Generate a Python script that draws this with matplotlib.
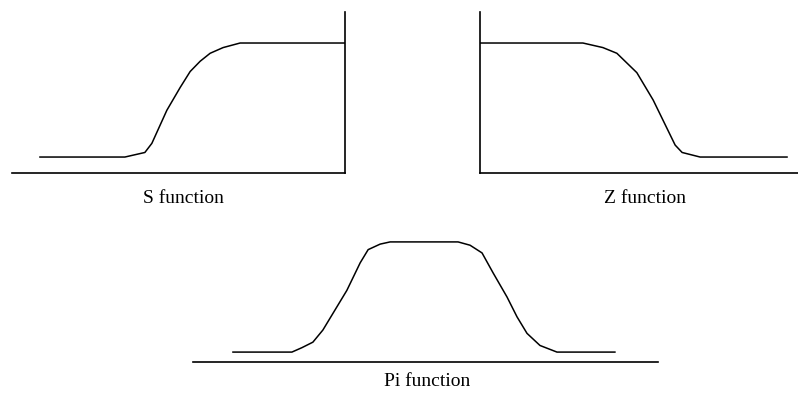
import matplotlib.pyplot as plt

# membership curves (x in arbitrary units, y = membership 0..1)
s_x = [0.84, 3.39, 3.69, 3.99, 4.2, 4.65, 5.05, 5.35, 5.65, 5.95, 6.34, 6.85, 10.0]
s_y = [0.0, 0.0, 0.02, 0.04, 0.12, 0.41, 0.61, 0.75, 0.84, 0.91, 0.96, 1.0, 1.0]

z_x = [0.0, 3.09, 3.69, 4.11, 4.71, 5.2, 5.86, 6.07, 6.61, 9.22]
z_y = [1.0, 1.0, 0.96, 0.91, 0.74, 0.5, 0.105, 0.04, 0.0, 0.0]

pi_x = [1.2, 2.97, 3.27, 3.6, 3.9, 4.2, 4.62, 5.02, 5.26, 5.62, 5.92,
        7.96, 8.32, 8.68, 9.01, 9.43, 9.73, 10.03, 10.42, 10.93, 12.67]
pi_y = [0.0, 0.0, 0.04, 0.09, 0.2, 0.35, 0.56, 0.81, 0.93, 0.98, 1.0,
        1.0, 0.97, 0.9, 0.72, 0.5, 0.32, 0.17, 0.06, 0.0, 0.0]

labels = ['S function', 'Z function', 'Pi function']

W, H = 798, 396
fig = plt.figure(figsize=(W / 100, H / 100), dpi=100)
fig.patch.set_facecolor('white')
plt.rcParams['font.family'] = ['Liberation Serif', 'DejaVu Serif']


def add_axes(x0, x1, y_top, y_bot):
    # pixel box -> figure fractions
    return fig.add_axes([x0 / W, 1 - y_bot / H, (x1 - x0) / W, (y_bot - y_top) / H])


def style(ax, left=False, right=False):
    for side in ['top', 'left', 'right', 'bottom']:
        ax.spines[side].set_visible(False)
    ax.spines['bottom'].set_visible(True)
    ax.spines['left'].set_visible(left)
    ax.spines['right'].set_visible(right)
    for sp in ax.spines.values():
        sp.set_linewidth(1.2)
        sp.set_color('black')
    ax.set_xticks([])
    ax.set_yticks([])
    ax.patch.set_alpha(0)


# S function
ax1 = add_axes(12, 345, 12, 173)
ax1.plot(s_x, s_y, color='black', lw=1.1)
ax1.set_xlim(0, 10)
ax1.set_ylim(-0.14, 1.272)
style(ax1, right=True)

# Z function
ax2 = add_axes(480, 798, 12, 173)
ax2.plot(z_x, z_y, color='black', lw=1.1)
ax2.set_xlim(0, 318 / 33.3)
ax2.set_ylim(-0.14, 1.272)
style(ax2, left=True)

# Pi function
ax3 = add_axes(193, 658, 232, 362)
ax3.plot(pi_x, pi_y, color='black', lw=1.1)
ax3.set_xlim(0, 465 / 33.3)
ax3.set_ylim(-0.09, 1.09)
style(ax3)

fig.text(183 / W, 1 - 199 / H, labels[0], ha='center', va='center', fontsize=14)
fig.text(645 / W, 1 - 199 / H, labels[1], ha='center', va='center', fontsize=14)
fig.text(427 / W, 1 - 381 / H, labels[2], ha='center', va='center', fontsize=14)

plt.savefig('out.png', dpi=100)
